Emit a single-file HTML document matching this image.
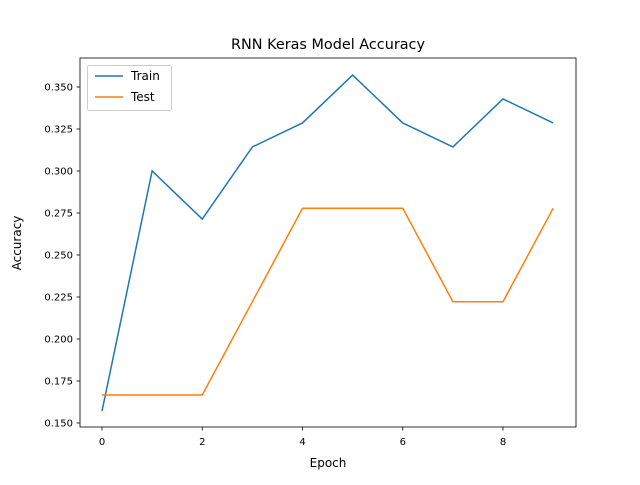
<!DOCTYPE html>
<html><head><meta charset="utf-8"><style>
body{margin:0;background:#fff}
svg{font-family:"DejaVu Sans","Liberation Sans",sans-serif}
</style></head><body>
<svg id="chart" width="640" height="480" xmlns="http://www.w3.org/2000/svg">
<rect width="640" height="480" fill="#fff"/>
<text x="328" y="49" font-size="14.4" text-anchor="middle">RNN Keras Model Accuracy</text>
<g id="ticks"></g>
<g id="lines"></g>
<rect x="80" y="58" width="496" height="369" fill="none" stroke="#000" stroke-width="0.8"/>
<text x="328" y="467" font-size="12" text-anchor="middle">Epoch</text>
<text transform="translate(21,243) rotate(-90)" font-size="12" text-anchor="middle">Accuracy</text>
<g>
<rect x="87.5" y="65.5" width="84" height="45" rx="2" fill="#fff" fill-opacity="0.8" stroke="#ccc"/>
<line x1="95" y1="76" x2="123" y2="76" stroke="#1f77b4" stroke-width="1.5"/>
<text x="131" y="80" font-size="12">Train</text>
<line x1="95" y1="97" x2="123" y2="97" stroke="#ff7f0e" stroke-width="1.5"/>
<text x="131" y="101" font-size="12">Test</text>
</g>
</svg>
<script>
const epochs=[0,1,2,3,4,5,6,7,8,9];
const trainAcc=[0.1571,0.3000,0.2714,0.3143,0.3286,0.3571,0.3286,0.3143,0.3429,0.3286];
const testAcc=[0.1667,0.1667,0.1667,0.2222,0.2778,0.2778,0.2778,0.2222,0.2222,0.2778];
const xTicks=[0,2,4,6,8];
const yTicks=[0.150,0.175,0.200,0.225,0.250,0.275,0.300,0.325,0.350];
const NS="http://www.w3.org/2000/svg";
function xs(v){return 102+v*50.125;}
function ys(v){return 423-(v-0.15)*1680;}
const tg=document.getElementById('ticks');
xTicks.forEach(t=>{
 const l=document.createElementNS(NS,'line');
 l.setAttribute('x1',xs(t));l.setAttribute('x2',xs(t));l.setAttribute('y1',427);l.setAttribute('y2',430.5);
 l.setAttribute('stroke','#000');l.setAttribute('stroke-width','0.8');
 
 
 tg.appendChild(l);
 const tx=document.createElementNS(NS,'text');
 tx.setAttribute('x',xs(t));tx.setAttribute('y',445);tx.setAttribute('font-size','10');tx.setAttribute('text-anchor','middle');
 tx.textContent=t;
 
 
 tg.appendChild(tx);
});
yTicks.forEach(t=>{
 const l=document.createElementNS(NS,'line');
 l.setAttribute('x1',76.5);l.setAttribute('x2',80);l.setAttribute('y1',ys(t));l.setAttribute('y2',ys(t));
 l.setAttribute('stroke','#000');l.setAttribute('stroke-width','0.8');
 
 
 tg.appendChild(l);
 const tx=document.createElementNS(NS,'text');
 tx.setAttribute('x',73);tx.setAttribute('y',ys(t)+3.5);tx.setAttribute('font-size','10');tx.setAttribute('text-anchor','end');
 tx.textContent=t.toFixed(3);
 
 
 tg.appendChild(tx);
});
const lg=document.getElementById('lines');
function line(vals,color,name){
 const p=document.createElementNS(NS,'polyline');
 p.setAttribute('points',vals.map((v,i)=>xs(epochs[i])+','+ys(v)).join(' '));
 p.setAttribute('fill','none');p.setAttribute('stroke',color);p.setAttribute('stroke-width','1.5');
 
 
 lg.appendChild(p);
}
line(trainAcc,'#1f77b4','train-line');
line(testAcc,'#ff7f0e','test-line');
</script>
</body></html>
